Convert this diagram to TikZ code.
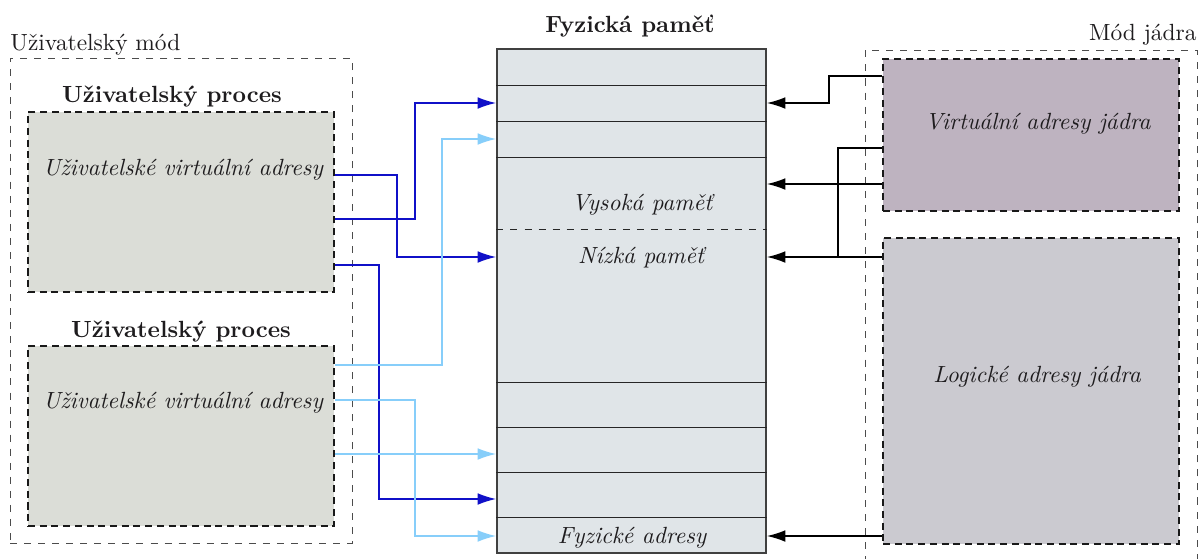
\documentclass[tikz,border=0pt]{standalone}
\usetikzlibrary{arrows.meta}
\definecolor{dblue}{RGB}{16,16,200}
\definecolor{lblue}{RGB}{135,206,250}
\definecolor{memfill}{RGB}{224,229,232}
\definecolor{procfill}{RGB}{219,221,215}
\definecolor{vkfill}{RGB}{190,179,192}
\definecolor{lkfill}{RGB}{203,202,208}
\definecolor{txt}{RGB}{30,28,30}
\begin{document}
\begin{tikzpicture}[x=0.427pt,y=-0.427pt,
  every node/.style={text=txt},
  modebox/.style={draw=black!70, dashed, line width=0.4pt, inner sep=0pt},
  procbox/.style={draw=black!90, dash pattern=on 3pt off 2pt, line width=0.9pt, inner sep=0pt},
  membox/.style={draw=black!75, fill=memfill, line width=0.5pt, inner sep=0pt},
  memline/.style={draw=black!85, line width=0.4pt},
  darrow/.style={draw=dblue, line width=0.8pt, -{Latex[length=8pt,width=5pt]}},
  larrow/.style={draw=lblue, line width=0.8pt, -{Latex[length=8pt,width=5pt]}},
  karrow/.style={draw=black, line width=0.8pt, -{Latex[length=8pt,width=5pt]}},
  kline/.style={draw=black, line width=0.8pt},
  ttl/.style={font=\bfseries, anchor=base},
  itx/.style={font=\itshape, anchor=base}]
\useasboundingbox (0,0) rectangle (1200,558);
% user mode
\node[modebox, minimum width=342*0.427pt, minimum height=485*0.427pt] (um) at (181,300.5) {};
\node[anchor=base west, inner sep=0pt] (uml) at (10,50) {Uživatelský mód};
\node[procbox, fill=procfill, minimum width=306*0.427pt, minimum height=180*0.427pt] (p1) at (181,202) {};
\node[procbox, fill=procfill, minimum width=306*0.427pt, minimum height=180*0.427pt] (p2) at (181,436) {};
\node[ttl] (t1) at (172,102) {Uživatelský proces};
\node[ttl] (t2) at (181,337) {Uživatelský proces};
\node[itx] (v1) at (183,175) {Uživatelské virtuální adresy};
\node[itx] (v2) at (183,408) {Uživatelské virtuální adresy};
% physical memory
\node[membox, minimum width=269*0.427pt, minimum height=504*0.427pt] (mem) at (631.5,301) {};
\node[ttl] (mt) at (630,32) {Fyzická paměť};
\foreach \yy in {85,121,157,382,427,472,517}
  \draw[memline] (mem.west |- 0,\yy) -- (mem.east |- 0,\yy);
\draw[memline, dashed] (mem.west |- 0,229) -- (mem.east |- 0,229);
\node[itx] (hi) at (642,210) {Vysoká paměť};
\node[itx] (lo) at (641,263) {Nízká paměť};
\node[itx] (fa) at (632,543) {Fyzické adresy};
% kernel mode
\node[modebox, minimum width=332*0.427pt, minimum height=530*0.427pt] (km) at (1031,315) {};
\node[anchor=base east, inner sep=0pt] (kml) at (1197,40) {Mód jádra};
\node[procbox, fill=vkfill, minimum width=296*0.427pt, minimum height=152*0.427pt] (vk) at (1031,135) {};
\node[procbox, fill=lkfill, minimum width=296*0.427pt, minimum height=306*0.427pt] (lk) at (1031,391) {};
\node[itx] (vkt) at (1038,129) {Virtuální adresy jádra};
\node[itx] (lkt) at (1037,382) {Logické adresy jádra};
% user connectors
\draw[darrow] (p1.east |- 0,219) -| (415,103) -- (mem.west |- 0,103);
\draw[darrow] (p1.east |- 0,175) -| (397,257) -- (mem.west |- 0,257);
\draw[darrow] (p1.east |- 0,265) -| (379,499) -- (mem.west |- 0,499);
\draw[larrow] (p2.east |- 0,365) -| (442,139) -- (mem.west |- 0,139);
\draw[larrow] (p2.east |- 0,400) -| (415,536) -- (mem.west |- 0,536);
\draw[larrow] (p2.east |- 0,454) -- (mem.west |- 0,454);
% kernel connectors
\draw[karrow] (vk.west |- 0,76) -| (829,103) -- (mem.east |- 0,103);
\draw[karrow] (vk.west |- 0,184) -- (mem.east |- 0,184);
\draw[kline] (vk.west |- 0,148) -| (838,257);
\draw[karrow] (lk.west |- 0,257) -- (mem.east |- 0,257);
\draw[karrow] (lk.west |- 0,536) -- (mem.east |- 0,536);
\end{tikzpicture}
\end{document}
